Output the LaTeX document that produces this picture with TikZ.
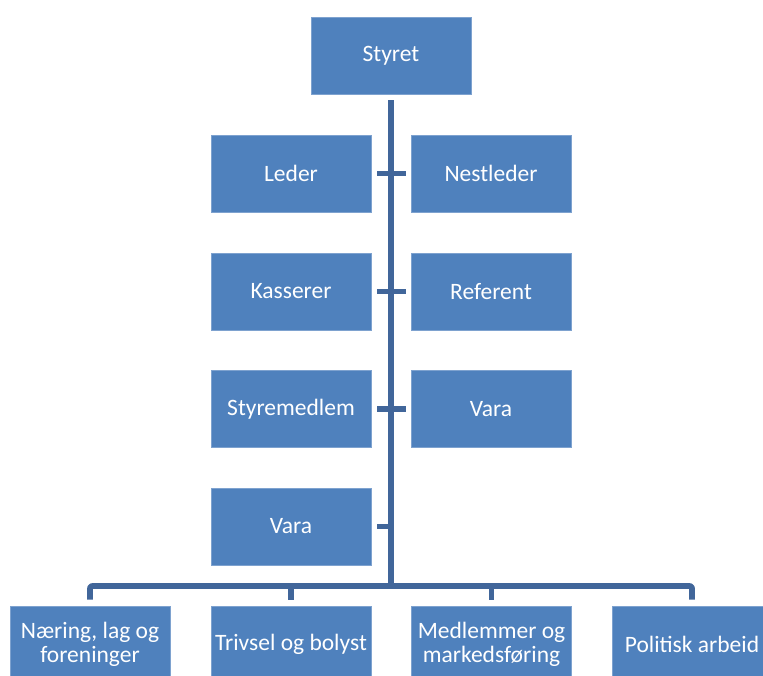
\documentclass[tikz,border=0pt]{standalone}
\usepackage{fontspec}
\setmainfont{Carlito}
\usetikzlibrary{calc}
\definecolor{boxfill}{HTML}{4F81BD}
\definecolor{boxline}{HTML}{7EA2CF}
\definecolor{conncol}{HTML}{41669A}
\tikzset{
  orgbox/.style={draw=boxline, line width=0.6pt, fill=boxfill, text=white,
    minimum width=160pt, minimum height=77pt, inner sep=0pt, align=center,
    font=\fontsize{23.5}{23.5}\selectfont},
  conn/.style={draw=conncol, line width=5.6pt, line join=round}
}
\begin{document}
\begin{tikzpicture}[x=1pt,y=-1pt]
\useasboundingbox (0,0) rectangle (763,675);
\clip (0,0) rectangle (763,675);
\node[orgbox] (styret) at (391,55.5) {Styret};
\node[orgbox] (leder) at (291,173.5) {Leder};
\node[orgbox] (nestleder) at (491,173.5) {Nestleder};
\node[orgbox] (kasserer) at (291,291.5) {Kasserer};
\node[orgbox] (referent) at (491,291.5) {Referent};
\node[orgbox] (styremedlem) at (291,409) {Styremedlem};
\node[orgbox] (vara1) at (491,409) {Vara};
\node[orgbox] (vara2) at (291,526.5) {Vara};
\node[orgbox] (naering) at (90,644.5) {Næring, lag og\\foreninger};
\node[orgbox] (trivsel) at (291,644.5) {Trivsel og bolyst};
\node[orgbox] (medlem) at (491.5,644.5) {Medlemmer og\\markedsføring};
\node[orgbox] (politisk) at (692,644.5) {Politisk arbeid};
\coordinate (bus) at (391,586);
% trunk
\draw[conn] ($(styret.south)+(0,6)$) -- (bus);
% ticks
\draw[conn] ($(leder.east)+(6,0)$) -- ($(nestleder.west)+(-5,0)$);
\draw[conn] ($(kasserer.east)+(6,0)$) -- ($(referent.west)+(-5,0)$);
\draw[conn] ($(styremedlem.east)+(6,0)$) -- ($(vara1.west)+(-5,0)$);
\draw[conn] ($(vara2.east)+(6,0)$) -- (vara2.east -| bus);
% bus
\draw[conn, rounded corners=2pt] ($(naering.north)+(0,-6)$) |- (bus) -| ($(politisk.north)+(0,-6)$);
\draw[conn] ($(trivsel.north)+(0,-6)$) -- (trivsel.north |- bus);
\draw[conn] ($(medlem.north)+(0,-6)$) -- (medlem.north |- bus);
\end{tikzpicture}
\end{document}
